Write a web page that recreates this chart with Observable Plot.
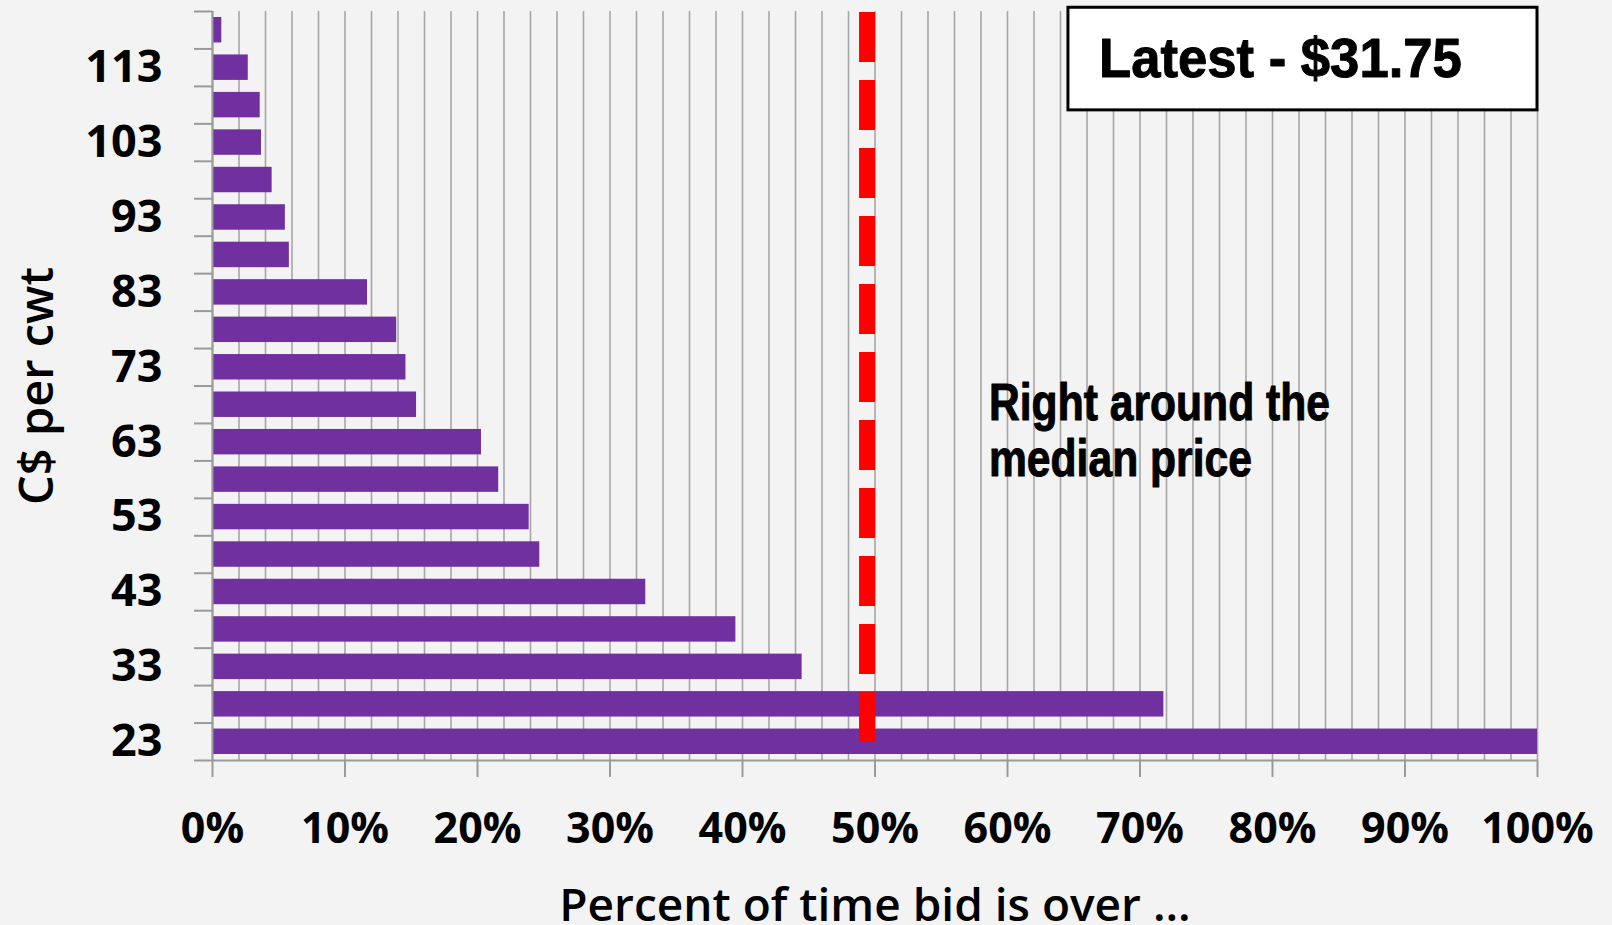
<!DOCTYPE html>
<html>
<head>
<meta charset="utf-8">
<script src="https://cdn.jsdelivr.net/npm/d3@7"></script>
<script src="https://cdn.jsdelivr.net/npm/@observablehq/plot@0.6"></script>
<style>
  html, body { margin: 0; padding: 0; background: #f3f3f3; }
  #chart svg { display: block; }
</style>
</head>
<body>
<div id="chart"></div>
<script>
// Price buckets, C$ per cwt (lowest to highest)
const prices = [23, 28, 33, 38, 43, 48, 53, 58, 63, 68, 73, 78, 83, 88, 93, 98, 103, 108, 113, 118];
// Percent of time the bid was above each price bucket
const pctOver = [100, 71.8, 44.5, 39.5, 32.7, 24.7, 23.9, 21.6, 20.3, 15.4, 14.6, 13.9, 11.7, 5.8, 5.5, 4.5, 3.7, 3.6, 2.7, 0.7];
// Prices labelled on the vertical axis
const priceLabels = [23, 33, 43, 53, 63, 73, 83, 93, 103, 113];
// Percent ticks on the horizontal axis
const pctTicks = [0, 10, 20, 30, 40, 50, 60, 70, 80, 90, 100];
// Latest bid and the share of time bids ran above it
const latestPrice = 31.75;
const latestPct = 49.4;
const noteLines = ["Right around the", "median price"];

const step = 5;
const rows = prices.map((p, i) => ({price: p, pct: pctOver[i], lo: p - step / 2, hi: p + step / 2}));
const edges = [...rows.map(d => d.lo), rows[rows.length - 1].hi];
const pctGrid = d3.range(0, 101, 2);

const heavy = "'Liberation Sans', Arial, sans-serif";

const chart = Plot.plot({
  width: 1612,
  height: 925,
  marginLeft: 212,
  marginRight: 75,
  marginTop: 11,
  marginBottom: 165,
  style: {fontFamily: "'Open Sans', sans-serif", background: "transparent", color: "#000", overflow: "hidden"},
  x: {domain: [0, 100], axis: null},
  y: {domain: [edges[0], edges[edges.length - 1]], axis: null},
  marks: [
    // vertical grid every 2%
    Plot.ruleX(pctGrid, {stroke: "#a6a6a6", strokeWidth: 1.6}),
    // bars
    Plot.rectX(rows, {x: "pct", y1: "lo", y2: "hi", insetTop: 6, insetBottom: 6, fill: "#7030a0"}),
    // axis lines
    Plot.ruleX([0], {stroke: "#9a9a9a", strokeWidth: 2}),
    Plot.ruleY([edges[0]], {stroke: "#9a9a9a", strokeWidth: 2}),
    // latest-bid marker
    Plot.ruleX([latestPct], {stroke: "#ff0000", strokeWidth: 16, strokeDasharray: "50,18", insetTop: 1, insetBottom: 18}),
    // y ticks between buckets, labels on every other bucket
    Plot.axisY(edges, {tickSize: 18, tickFormat: () => "", stroke: "#9a9a9a", strokeWidth: 2, label: null}),
    Plot.axisY(priceLabels, {tickSize: 0, tickPadding: 50, fontSize: 45, fontWeight: 700, fill: "#000", label: null}),
    // x ticks
    Plot.axisX(pctTicks, {tickSize: 17, tickPadding: 35, tickFormat: d => d + "%", fontSize: 43, fontWeight: 700,
      stroke: "#9a9a9a", strokeWidth: 2, fill: "#000", label: null}),
    // axis titles
    Plot.text(["Percent of time bid is over ..."], {text: d => d, frameAnchor: "bottom", dy: 146, lineAnchor: "middle",
      fontSize: 46, fontWeight: 600, fill: "#000"}),
    Plot.text(["C$ per cwt"], {text: d => d, frameAnchor: "left", dx: -175, rotate: -90, textAnchor: "middle",
      lineAnchor: "middle", fontSize: 47, fontWeight: 600, fill: "#000"}),
    // latest price box
    Plot.rect([latestPrice], {x1: 64.6, x2: 100, y1: 107.3, y2: 121.0, fill: "#fff", stroke: "#000", strokeWidth: 3}),
    Plot.text([latestPrice], {text: d => `Latest - $${d.toFixed(2)}`, x: 80.6, y: 114.1, lineAnchor: "middle",
      fontFamily: heavy, fontWeight: "bold", fontSize: 56, fill: "#000", stroke: "#000", strokeWidth: 1}),
    // note
    Plot.text([noteLines.join("\n")], {text: d => d, x: 58.6, y: 71.3, textAnchor: "start", lineAnchor: "top",
      lineHeight: 1.08, fontFamily: heavy, fontWeight: "bold", fontSize: 52, fill: "#000", stroke: "#000", strokeWidth: 1})
  ]
});

// condensed lettering for the two callouts
chart.querySelectorAll("text").forEach(t => {
  const s = t.textContent;
  const k = s.startsWith("Latest") ? 0.94 : s.startsWith("Right") ? 0.82 : null;
  if (k && t.getAttribute("transform")) t.setAttribute("transform", t.getAttribute("transform") + ` scale(${k},1)`);
});

document.getElementById("chart").appendChild(chart);
</script>
</body>
</html>
